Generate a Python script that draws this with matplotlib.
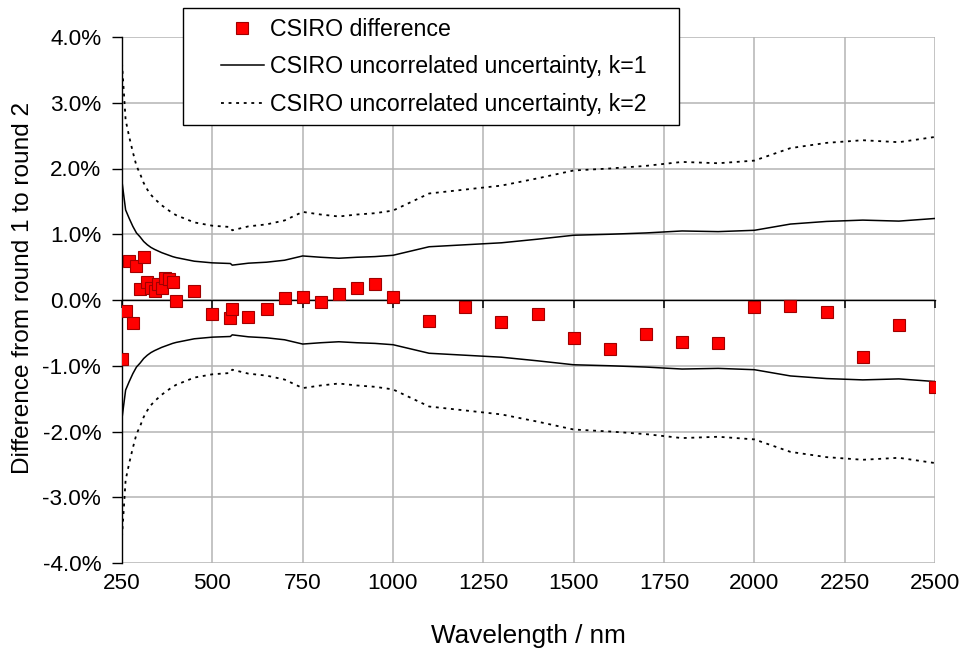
import matplotlib
matplotlib.use("Agg")
import matplotlib.pyplot as plt
from matplotlib.patches import Rectangle
from matplotlib.ticker import FuncFormatter

plt.rcParams['font.family'] = ['Liberation Sans', 'DejaVu Sans']

# wavelengths (nm) of the CSIRO measurements
wavelength = [250, 260, 270, 280, 290, 300, 310, 320, 330, 340, 350, 360, 370, 380, 390, 400,
              450, 500, 550, 555, 600, 650, 700, 750, 800, 850, 900, 950, 1000,
              1100, 1200, 1300, 1400, 1500, 1600, 1700, 1800, 1900, 2000,
              2100, 2200, 2300, 2400, 2500]

# difference from round 1 to round 2 (%)
difference = [-0.89, -0.16, 0.60, -0.35, 0.51, 0.16, 0.65, 0.27, 0.19, 0.13, 0.24, 0.19, 0.34, 0.32, 0.27, -0.02,
              0.14, -0.22, -0.27, -0.14, -0.26, -0.13, 0.03, 0.04, -0.03, 0.09, 0.18, 0.24, 0.05,
              -0.32, -0.11, -0.33, -0.21, -0.58, -0.74, -0.52, -0.64, -0.65, -0.11,
              -0.09, -0.19, -0.86, -0.38, -1.32]

# uncorrelated uncertainty (%), k=1
unc_k1 = [1.80, 1.37, 1.24, 1.12, 1.02, 0.96, 0.89, 0.84, 0.80, 0.77, 0.745, 0.72, 0.70, 0.68, 0.66, 0.645,
          0.59, 0.565, 0.555, 0.53, 0.56, 0.575, 0.605, 0.67, 0.65, 0.635, 0.65, 0.66, 0.68,
          0.81, 0.84, 0.87, 0.925, 0.985, 1.00, 1.02, 1.05, 1.04, 1.06,
          1.155, 1.195, 1.215, 1.20, 1.24]

# uncorrelated uncertainty (%), k=2
unc_k2 = [3.60, 2.74, 2.48, 2.25, 2.04, 1.92, 1.78, 1.68, 1.60, 1.54, 1.49, 1.44, 1.40, 1.36, 1.32, 1.29,
          1.18, 1.13, 1.11, 1.06, 1.12, 1.15, 1.21, 1.34, 1.30, 1.27, 1.30, 1.32, 1.36,
          1.62, 1.68, 1.74, 1.85, 1.97, 2.00, 2.04, 2.10, 2.08, 2.12,
          2.31, 2.39, 2.43, 2.40, 2.48]

x_ticks = [250, 500, 750, 1000, 1250, 1500, 1750, 2000, 2250, 2500]
y_ticks = [-4, -3, -2, -1, 0, 1, 2, 3, 4]

TICK_FS = 16.2
LEG_FS = 16.7

fig = plt.figure(figsize=(9.62, 6.53), dpi=100)
ax = fig.add_axes([122 / 962, 1 - 563 / 653, 813 / 962, 526 / 653])

ax.plot(wavelength, unc_k1, color='black', lw=1.1, zorder=2,
        label='CSIRO uncorrelated uncertainty, k=1')
ax.plot(wavelength, [-u for u in unc_k1], color='black', lw=1.1, zorder=2, label='_nolegend_')
ax.plot(wavelength, unc_k2, color='black', lw=1.3, ls=(0, (1.6, 2.6)), zorder=2,
        label='CSIRO uncorrelated uncertainty, k=2')
ax.plot(wavelength, [-u for u in unc_k2], color='black', lw=1.3, ls=(0, (1.6, 2.6)), zorder=2,
        label='_nolegend_')
ax.plot(wavelength, difference, ls='none', marker='s', markersize=8, markerfacecolor='#ff0000',
        markeredgecolor='#a00000', markeredgewidth=0.8, zorder=3, label='CSIRO difference')

ax.set_xlim(250, 2500)
ax.set_ylim(-4, 4)
ax.set_xticks(x_ticks)
ax.set_yticks(y_ticks)
ax.yaxis.set_major_formatter(FuncFormatter(lambda v, p: f"{v:.1f}%"))
ax.grid(True, color='#b4b4b4', lw=1.1, zorder=0)
ax.set_axisbelow(True)

for s in ['top', 'right', 'bottom']:
    ax.spines[s].set_visible(False)
ax.spines['left'].set_linewidth(1.0)
ax.spines['left'].set_zorder(2.5)

ax.tick_params(axis='y', direction='out', length=7, width=1, pad=8, labelsize=TICK_FS)
ax.tick_params(axis='x', length=0, pad=7, labelsize=TICK_FS)

# horizontal axis line crossing at 0 %, ticks hanging below it
zero_ax = ax.secondary_xaxis(0.5)
zero_ax.set_zorder(1.5)
zero_ax.set_xticks(x_ticks)
zero_ax.tick_params(axis='x', which='both', top=True, bottom=False, direction='in',
                    length=6, width=1.1, color='black', labeltop=False, labelbottom=False)
for sp in zero_ax.spines.values():
    sp.set_linewidth(1.0)

ax.set_xlabel('Wavelength / nm', fontsize=18.8, labelpad=22)
ax.set_ylabel('Difference from round 1 to round 2', fontsize=17.6)
ax.yaxis.set_label_coords(-0.108, 0.523)

# legend box
box = Rectangle((183 / 962, 1 - 125 / 653), 496 / 962, 117 / 653, transform=fig.transFigure,
                facecolor='white', edgecolor='black', lw=1.0, zorder=4)
fig.add_artist(box)

h, l = ax.get_legend_handles_labels()
order = [2, 0, 1]
leg = fig.legend([h[i] for i in order], [l[i] for i in order], loc='upper left',
                 bbox_to_anchor=(209 / 962, 1 - 6.5 / 653), bbox_transform=fig.transFigure,
                 frameon=False, borderpad=0, fontsize=LEG_FS, handlelength=1.85,
                 handletextpad=0.26, labelspacing=0.62)
leg.set_zorder(5)

fig.savefig('out.png', dpi=100)
